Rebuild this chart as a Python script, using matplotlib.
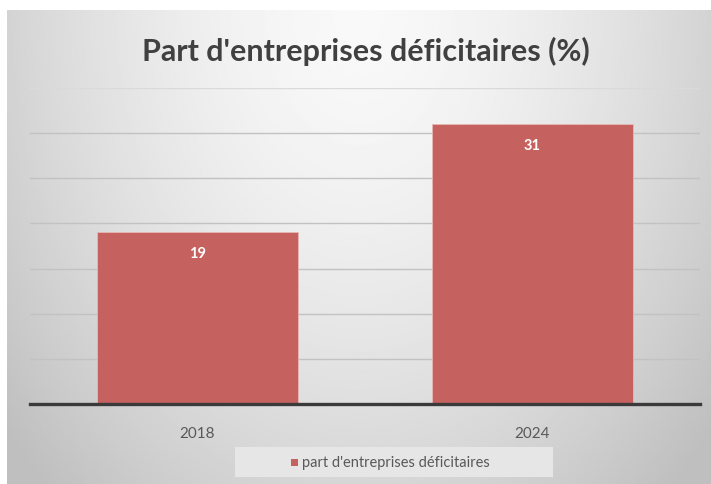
import numpy as np
import matplotlib.pyplot as plt
from matplotlib.patches import Rectangle

# data
years = ["2018", "2024"]
values = [19, 31]
series_name = "part d'entreprises déficitaires"
title = "Part d'entreprises déficitaires (%)"

W, H = 711, 485
fig = plt.figure(figsize=(W / 100, H / 100), dpi=100)
fig.patch.set_facecolor("white")

# gray gradient panel (lighter at top centre, darker toward edges)
bg = fig.add_axes([7 / W, 0, 1 - 7 / W, 1 - 11 / H], zorder=0)
gx, gy = np.meshgrid(np.linspace(-1, 1, 300), np.linspace(0, 1, 200))
dist = np.sqrt((gx / 1.1) ** 2 + (gy / 1.15) ** 2)
shade = 0.975 - 0.17 * np.clip(dist, 0, 1.2) ** 1.6
bg.imshow(shade, cmap="gray", vmin=0, vmax=1, aspect="auto",
          extent=[0, 1, 0, 1], origin="upper")
bg.set_axis_off()

ax = fig.add_axes([30 / W, 1 - 405 / H, 670 / W, (405 - 89) / H], zorder=1)
ax.patch.set_alpha(0)
x = np.arange(len(years))
bars = ax.bar(x, values, width=0.6, color="#c5625f", edgecolor="#e8b8b6",
              linewidth=0.6, zorder=2, label=series_name)
ax.set_xlim(-0.5, len(years) - 0.5)
ax.set_ylim(0, 35)
ax.set_yticks([])
# gridlines every 5; top one fainter like the reference
for yv in np.arange(5, 36, 5):
    ax.axhline(yv, color="#dadada" if yv == 35 else "#c2c2c2",
               linewidth=1.0, zorder=0)
ax.tick_params(axis="x", bottom=False, pad=12, labelsize=11, labelcolor="#595959")
ax.set_xticks(x)
ax.set_xticklabels(years, family="Lato")
for s in ["top", "right", "left"]:
    ax.spines[s].set_visible(False)
ax.spines["bottom"].set_color("#3a3a3a")
ax.spines["bottom"].set_linewidth(2.4)
ax.spines["bottom"].set_zorder(3)

for b, v in zip(bars, values):
    ax.text(b.get_x() + b.get_width() / 2, v - 2.3, str(v), ha="center",
            va="center", color="white", fontsize=10.5, fontweight="bold",
            family="Lato", zorder=4)

fig.text(366 / W, 1 - 51 / H, title, ha="center", va="center", fontsize=22,
         fontweight="bold", color="#404040", family="Lato")

# legend box
fig.patches.append(Rectangle((235 / W, 1 - 478 / H), 318 / W, 30 / H,
                             transform=fig.transFigure, facecolor="#e6e6e6",
                             edgecolor="none", zorder=1))
fig.patches.append(Rectangle((291 / W, 1 - 467 / H), 7 / W, 7 / H,
                             transform=fig.transFigure, facecolor="#c5625f",
                             edgecolor="none", zorder=2))
fig.text(302 / W, 1 - 463 / H, series_name, ha="left", va="center",
         fontsize=10.5, color="#595959", family="Lato", zorder=3)

fig.savefig("out.png", dpi=100)
